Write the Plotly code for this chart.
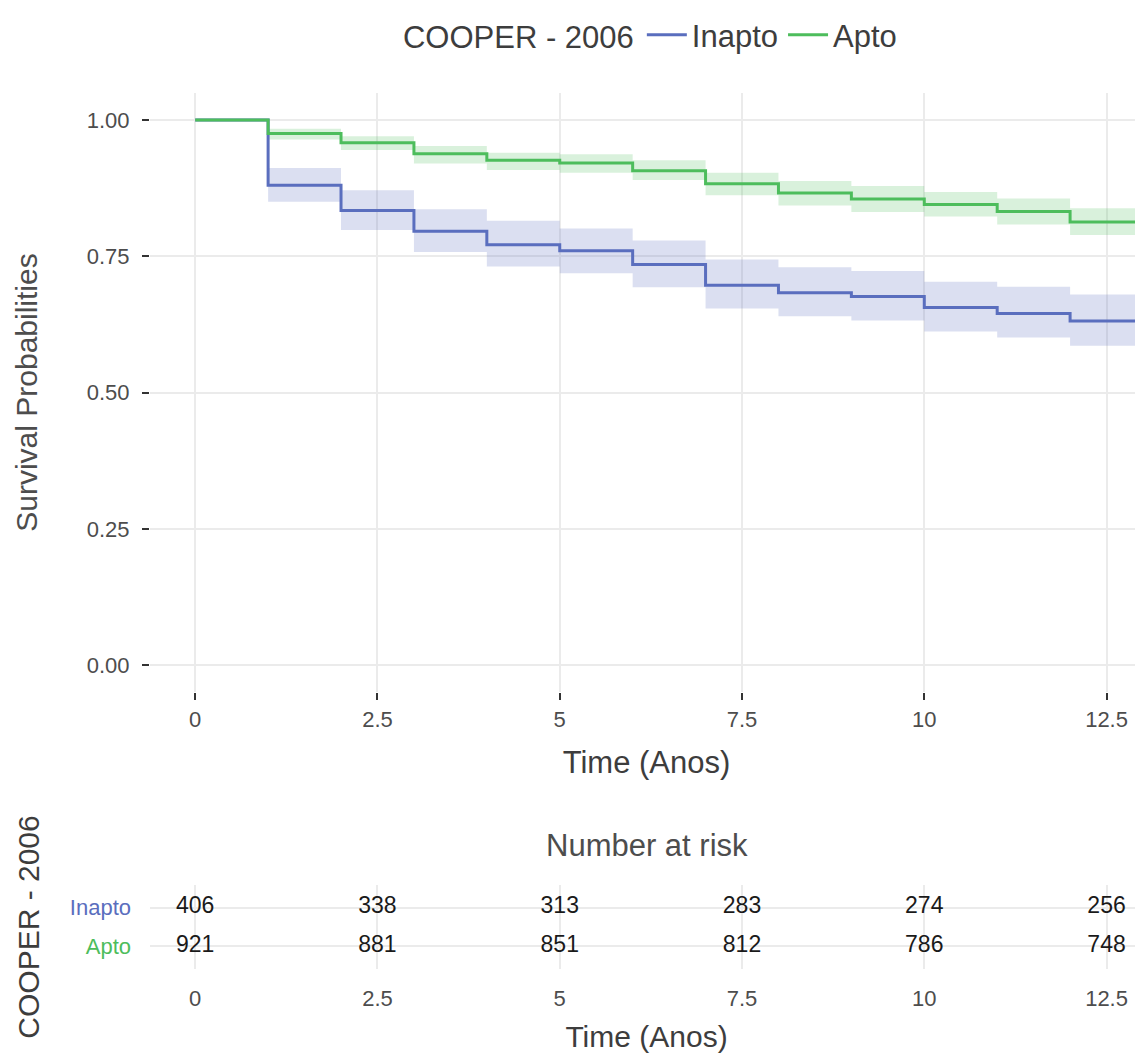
import plotly.graph_objects as go

# ---- data ----
times = [0, 1, 2, 3, 4, 5, 6, 7, 8, 9, 10, 11, 12, 12.93]

apto_surv = [1.0, 0.975, 0.958, 0.938, 0.926, 0.921, 0.907, 0.883, 0.866, 0.855, 0.845, 0.832, 0.813, 0.803]
apto_upper = [1.0, 0.984, 0.970, 0.952, 0.940, 0.937, 0.926, 0.903, 0.888, 0.879, 0.868, 0.856, 0.838, 0.828]
apto_lower = [1.0, 0.964, 0.945, 0.920, 0.908, 0.903, 0.890, 0.862, 0.843, 0.831, 0.823, 0.808, 0.789, 0.778]

inapto_surv = [1.0, 0.880, 0.834, 0.796, 0.771, 0.760, 0.735, 0.697, 0.683, 0.676, 0.656, 0.645, 0.631, 0.609]
inapto_upper = [1.0, 0.912, 0.871, 0.836, 0.815, 0.801, 0.779, 0.744, 0.730, 0.723, 0.703, 0.694, 0.680, 0.660]
inapto_lower = [1.0, 0.850, 0.798, 0.758, 0.731, 0.719, 0.693, 0.654, 0.640, 0.632, 0.612, 0.601, 0.586, 0.563]

risk_times = [0, 2.5, 5, 7.5, 10, 12.5]
risk_inapto = [406, 338, 313, 283, 274, 256]
risk_apto = [921, 881, 851, 812, 786, 748]

x_ticks = [0, 2.5, 5, 7.5, 10, 12.5]
x_ticktext = ["0", "2.5", "5", "7.5", "10", "12.5"]
y_ticks = [0, 0.25, 0.5, 0.75, 1.0]
y_ticktext = ["0.00", "0.25", "0.50", "0.75", "1.00"]

groups = ["Inapto", "Apto"]
line_colors = {"Inapto": "#5a6ebe", "Apto": "#4dbd5c"}
band_colors = {"Inapto": "rgba(90,110,190,0.22)", "Apto": "rgba(77,189,92,0.21)"}

FONT = "Liberation Sans, Arial, Helvetica, sans-serif"
TXT = "#4d4d4d"
GRID = "#ebebeb"

series = {
    "Inapto": (inapto_surv, inapto_upper, inapto_lower, risk_inapto),
    "Apto": (apto_surv, apto_upper, apto_lower, risk_apto),
}

fig = go.Figure()

# confidence bands
for g in groups:
    s, up, lo, _ = series[g]
    fig.add_trace(go.Scatter(x=times, y=up, mode="lines", line=dict(width=0, shape="hv"),
                             showlegend=False, hoverinfo="skip", xaxis="x", yaxis="y"))
    fig.add_trace(go.Scatter(x=times, y=lo, mode="lines", line=dict(width=0, shape="hv"),
                             fill="tonexty", fillcolor=band_colors[g],
                             showlegend=False, hoverinfo="skip", xaxis="x", yaxis="y"))

# survival curves
for g in groups:
    s, up, lo, _ = series[g]
    fig.add_trace(go.Scatter(x=times, y=s, mode="lines", name=g,
                             line=dict(color=line_colors[g], width=3, shape="hv"),
                             xaxis="x", yaxis="y"))

# risk table
row_pos = {"Inapto": 2, "Apto": 1}
for g in groups:
    fig.add_trace(go.Scatter(x=risk_times, y=[row_pos[g]] * len(risk_times), mode="text",
                             text=[str(v) for v in series[g][3]],
                             textfont=dict(family=FONT, size=23, color="#1a1a1a"),
                             showlegend=False, hoverinfo="skip", xaxis="x2", yaxis="y2"))

# the page body adds an 8px offset; the figure is sized to fill the rest of the window
W, H = 1135.0, 1045.0
common_x = dict(range=[-0.62, 13.0], tickvals=x_ticks, ticktext=x_ticktext, automargin=False,
                showgrid=True, gridcolor=GRID, gridwidth=2, zeroline=False, showline=False,
                tickfont=dict(size=22, color=TXT))
fig.update_layout(
    width=W, height=H,
    margin=dict(l=142, r=0, t=0, b=0),
    paper_bgcolor="white", plot_bgcolor="white",
    font=dict(family=FONT, color=TXT),
    showlegend=True,
    legend=dict(orientation="h", x=0.505, xref="paper", xanchor="center",
                y=1 - 23 / H, yanchor="middle", traceorder="normal",
                title=dict(text="COOPER - 2006", font=dict(size=31, color="#3d3d3d")),
                font=dict(size=31, color="#3d3d3d"), itemwidth=40),
    xaxis=dict(domain=[0, 1], ticks="outside", ticklen=7, tickwidth=2, tickcolor="#333333",
               title=dict(text="Time (Anos)", font=dict(size=31, color="#3d3d3d"), standoff=20),
               anchor="y", **common_x),
    yaxis=dict(domain=[1 - 683 / H, 1 - 81 / H], range=[-0.05, 1.05], tickvals=y_ticks,
               ticktext=y_ticktext, ticks="outside", ticklen=7, tickwidth=2, tickcolor="#333333",
               showgrid=True, gridcolor=GRID, gridwidth=2, zeroline=False, showline=False,
               tickfont=dict(size=22, color=TXT), ticklabelstandoff=8, automargin=False,
               title=dict(text="Survival Probabilities", font=dict(size=30, color=TXT), standoff=40),
               anchor="x"),
    xaxis2=dict(domain=[0, 1], ticks="", ticklabelstandoff=14,
                title=dict(text="Time (Anos)", font=dict(size=30, color="#3d3d3d"), standoff=16),
                anchor="y2", **common_x),
    yaxis2=dict(domain=[1 - 961 / H, 1 - 876 / H], range=[0.4, 2.6], tickvals=[2, 1],
                ticktext=[f'<span style="color:{line_colors[g]}">{g}</span>' for g in groups],
                ticks="", showgrid=True, gridcolor=GRID, gridwidth=2, zeroline=False, showline=False,
                tickfont=dict(size=22), ticklabelstandoff=18, automargin=False,
                title=dict(text="COOPER - 2006", font=dict(size=30, color="#3d3d3d"), standoff=21),
                anchor="x2"),
    annotations=[dict(text="Number at risk", xref="paper", yref="paper", x=0.5, y=1 - 837 / H,
                      xanchor="center", yanchor="middle", showarrow=False,
                      font=dict(family=FONT, size=31, color=TXT))],
)

fig.write_html("out.html")
